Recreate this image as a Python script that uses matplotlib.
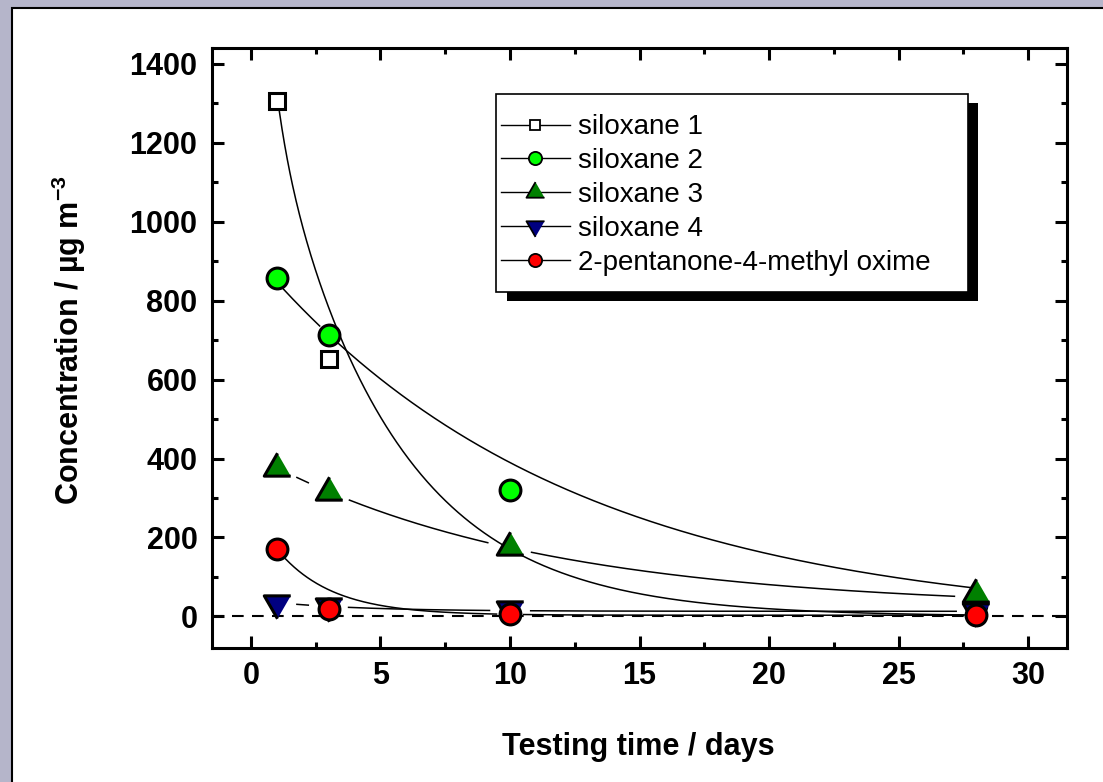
import numpy as np
import matplotlib
matplotlib.use('Agg')
import matplotlib.pyplot as plt
from matplotlib.lines import Line2D
from matplotlib.patches import Rectangle
from matplotlib.ticker import MultipleLocator

plt.rcParams['font.family'] = ['Liberation Sans', 'DejaVu Sans']
plt.rcParams['mathtext.fontset'] = 'custom'
plt.rcParams['mathtext.rm'] = 'Liberation Sans'
plt.rcParams['mathtext.bf'] = 'Liberation Sans:bold'

# measured concentrations (ug m-3) at each testing day
days = [1, 3, 10, 28]
siloxane1 = [1307, 651, 12, 8]
siloxane2 = [858, 714, 321, 30]
siloxane3 = [377, 316, 175, 58]
siloxane4 = [35, 26, 18, 15]
oxime = [172, 18, 5, 3]

labels = ['siloxane 1', 'siloxane 2', 'siloxane 3', 'siloxane 4',
          '2-pentanone-4-methyl oxime']

# exponential decay fits: y0 + A1*exp(-x/t1) + A2*exp(-x/t2)
fit_y0 = [0, -20, 20, 13, 3]
fit_A1 = [894, 943, 392, 29.3, 270]
fit_t1 = [0.5, 12.0, 10.7, 3.5, 2.1]
fit_A2 = [1499, 0, 0, 0, 0]
fit_t2 = [4.6, 1, 1, 1, 1]

W, H = 1103, 782
tri_up = [(0, 1.1547), (-1, -0.5774), (1, -0.5774)]
tri_down = [(0, -1.1547), (-1, 0.5774), (1, 0.5774)]

series = [siloxane1, siloxane2, siloxane3, siloxane4, oxime]
markers = ['s', 'o', tri_up, tri_down, 'o']
fills = ['white', '#00ff00', '#008000', '#000080', '#ff0000']
sizes = [12, 15, 22, 22, 15]
leg_sizes = [7, 9.5, 15, 15, 9.5]
gaps = [10, 12, 22, 20, 13]   # line gap around own symbols, pixels


def px(x, y):
    return x / W, 1 - y / H


fig = plt.figure(figsize=(W / 100, H / 100), dpi=100)
fig.patch.set_facecolor('#b5b5ca')

# white panel with black border
panel = Rectangle(px(12, 790), 2, 1, transform=fig.transFigure,
                  facecolor='white', edgecolor='black', lw=1.5, zorder=-1)
fig.add_artist(panel)

l, t = px(212, 48)
r, b = px(1067, 648)
ax = fig.add_axes([l, b, r - l, t - b])
ax.set_xlim(-1.5, 31.5)
ax.set_ylim(-80, 1440)

ax.axhline(0, color='black', lw=1.5, dashes=(5.6, 4), zorder=1.5)

xs = np.linspace(1, 28, 800)
for i, ys in enumerate(series):
    fit = (fit_y0[i] + fit_A1[i] * np.exp(-xs / fit_t1[i])
           + fit_A2[i] * np.exp(-xs / fit_t2[i]))
    # cut the fit line near its own symbols
    pts = ax.transData.transform(np.column_stack([xs, fit]))
    sym = ax.transData.transform(np.column_stack([days, ys]))
    mask = np.zeros(len(xs), bool)
    for p in sym:
        mask |= np.hypot(pts[:, 0] - p[0], pts[:, 1] - p[1]) < gaps[i]
    fit = np.where(mask, np.nan, fit)
    ax.plot(xs, fit, color='black', lw=1.1, zorder=2)

for i, ys in enumerate(series):
    ax.plot(days, ys, ls='none', marker=markers[i], ms=sizes[i],
            mfc=fills[i], mec='black', mew=2.2, zorder=3 + i)

ax.xaxis.set_major_locator(MultipleLocator(5))
ax.xaxis.set_minor_locator(MultipleLocator(2.5))
ax.yaxis.set_major_locator(MultipleLocator(200))
ax.yaxis.set_minor_locator(MultipleLocator(100))
ax.tick_params(which='both', direction='in', top=True, right=True,
               width=2.2, labelsize=22)
ax.tick_params(which='major', length=8.6)
ax.tick_params(which='minor', length=4.3)
ax.tick_params(axis='y', pad=10.5)
ax.tick_params(axis='x', pad=9)
for lab in ax.get_xticklabels() + ax.get_yticklabels():
    lab.set_fontweight('bold')
for sp in ax.spines.values():
    sp.set_linewidth(2.2)

fig.text(*px(638, 755), 'Testing time / days', ha='center', va='baseline',
         fontsize=22, fontweight='bold')
fig.text(*px(69, 340), 'Concentration / µg m$^{\\mathbf{-3}}$', rotation=90,
         ha='center', va='center', fontsize=22, fontweight='bold')

# legend box with shadow
sx, sy = px(506.7, 301)
fig.add_artist(Rectangle((sx, sy), (977.7 - 506.7) / W, (301 - 102.7) / H,
                         transform=fig.transFigure, facecolor='black',
                         edgecolor='none', zorder=5))
bx, by = px(495.7, 291.7)
fig.add_artist(Rectangle((bx, by), (967.7 - 495.7) / W, (291.7 - 94) / H,
                         transform=fig.transFigure, facecolor='white',
                         edgecolor='black', lw=1.2, zorder=6))

handles = []
for i in range(5):
    handles.append(Line2D([0], [0], color='black', lw=1, marker=markers[i],
                          ms=leg_sizes[i], mfc=fills[i], mec='black', mew=1.3))
leg = fig.legend(handles, labels, loc='center left',
                 bbox_to_anchor=px(500.7, 195), bbox_transform=fig.transFigure,
                 frameon=False, borderpad=0, borderaxespad=0,
                 handlelength=2.48, handletextpad=0.29, labelspacing=0.28,
                 prop={'size': 20, 'weight': 'normal'})
leg.set_zorder(7)

fig.savefig('out.png', dpi=100)
